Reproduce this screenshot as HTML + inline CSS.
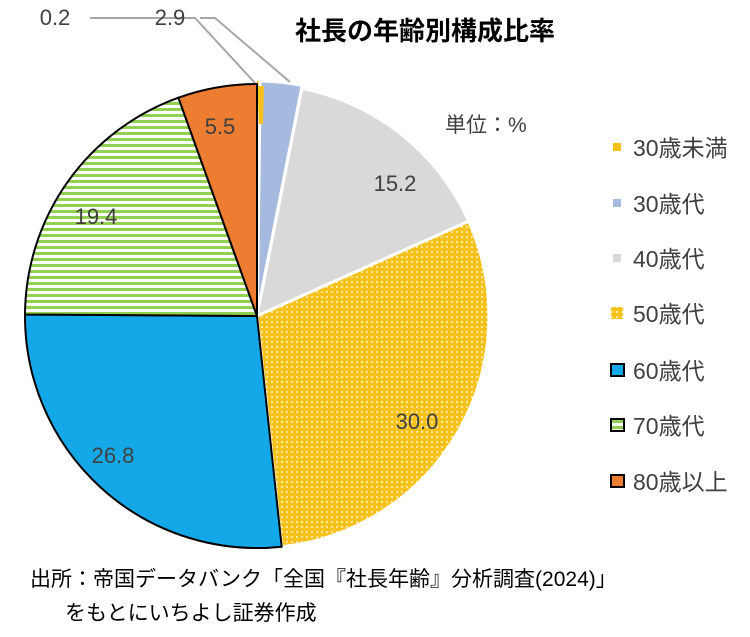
<!DOCTYPE html>
<html><head><meta charset="utf-8"><style>
body{margin:0;background:#fff;width:750px;height:632px;overflow:hidden;font-family:"Liberation Sans","Noto Sans CJK JP",sans-serif;}
svg text{font-family:"Liberation Sans","Noto Sans CJK JP",sans-serif;}
</style></head><body>
<svg id="s" width="750" height="632" xmlns="http://www.w3.org/2000/svg">
<defs>
<pattern id="dots" width="5" height="5" patternUnits="userSpaceOnUse">
<rect width="5" height="5" fill="#f6c21a"/><rect x="1" y="1" width="2" height="2" fill="#fbe7a0"/>
</pattern>
<pattern id="stripes" width="6" height="6" patternUnits="userSpaceOnUse">
<rect width="6" height="6" fill="#fff"/><rect width="6" height="3" fill="#92d050"/>
</pattern>
</defs>
<g id="pie"></g>
<polyline points="90,18 195,18 255,83" fill="none" stroke="#a6a6a6" stroke-width="2"/>
<polyline points="200,18 215,18 290,82" fill="none" stroke="#a6a6a6" stroke-width="2"/>
<g font-size="22" fill="#404040" text-anchor="middle">
<text x="55" y="25">0.2</text>
<text x="170" y="25">2.9</text>
<text x="395" y="191">15.2</text>
<text x="417" y="429">30.0</text>
<text x="113" y="463">26.8</text>
<text x="96" y="224">19.4</text>
<text x="220" y="134">5.5</text>
</g>
<text x="425" y="40" font-size="26" font-weight="bold" fill="#000" text-anchor="middle">社長の年齢別構成比率</text>
<text x="445" y="132" font-size="21" fill="#404040">単位：%</text>
<g font-size="23" fill="#404040">
<rect x="613" y="143" width="8" height="8" fill="#f6c21a"/><text x="633" y="156">30歳未満</text>
<rect x="613" y="199" width="8" height="8" fill="#a6b9de"/><text x="633" y="212">30歳代</text>
<rect x="613" y="254" width="8" height="8" fill="#d9d9d9"/><text x="633" y="267">40歳代</text>
<rect x="611" y="307" width="12" height="12" fill="url(#dots)"/><text x="633" y="322">50歳代</text>
<rect x="611" y="364" width="13" height="12" fill="#15a8e8" stroke="#000" stroke-width="2"/><text x="633" y="379">60歳代</text>
<rect x="611" y="419" width="13" height="12" fill="url(#stripes)" stroke="#000" stroke-width="2"/><text x="633" y="434">70歳代</text>
<rect x="611" y="475" width="13" height="12" fill="#ed7d31" stroke="#000" stroke-width="2"/><text x="633" y="490">80歳以上</text>
</g>
<g font-size="21" fill="#000">
<text x="30" y="586">出所：帝国データバンク「全国『社長年齢』分析調査(2024)」</text>
<text x="65" y="620">をもとにいちよし証券作成</text>
</g>
</svg>
<script>
var cx=257,cy=316,r=232;
var d=[[0.2,"#f6c21a",0,3],[2.9,"#a6b9de",0,3],[15.2,"#d9d9d9",0,0],[30.0,"url(#dots)",0,0],[26.8,"#15a8e8",1,0],[19.4,"url(#stripes)",1,0],[5.5,"#ed7d31",1,0]];
var a=0,h="";
function pt(ang,rr,ox,oy){var t=ang*Math.PI/180;return [(ox+rr*Math.sin(t)).toFixed(1),(oy-rr*Math.cos(t)).toFixed(1)];}
d.forEach(function(s,i){
var a2=a+s[0]*3.6,m=(a+a2)/2,o=pt(m,s[3],cx,cy);var ox=+o[0],oy=+o[1];
var p1=pt(a,r,ox,oy),p2=pt(a2,r,ox,oy),lg=(a2-a)>180?1:0;
var sw=s[2]?2:(i==0?0:3);
h+='<path d="M'+ox+','+oy+' L'+p1+' A'+r+','+r+' 0 '+lg+' 1 '+p2+' Z" fill="'+s[1]+'" stroke="'+(s[2]?'#000':'#fff')+'" stroke-width="'+sw+'" stroke-linejoin="round"/>';
a=a2;});
var p0=pt(0,r+1,cx,cy+0);
h+='<path d="M'+(cx+1)+','+(cy-r+2)+' L'+(cx+7)+','+(cy-r+2)+' L'+(cx+6)+','+(cy-r+40)+' L'+(cx+2)+','+(cy-r+40)+' Z" fill="#f6c21a"/>';
document.getElementById("pie").innerHTML=h;
</script>
</body></html>
